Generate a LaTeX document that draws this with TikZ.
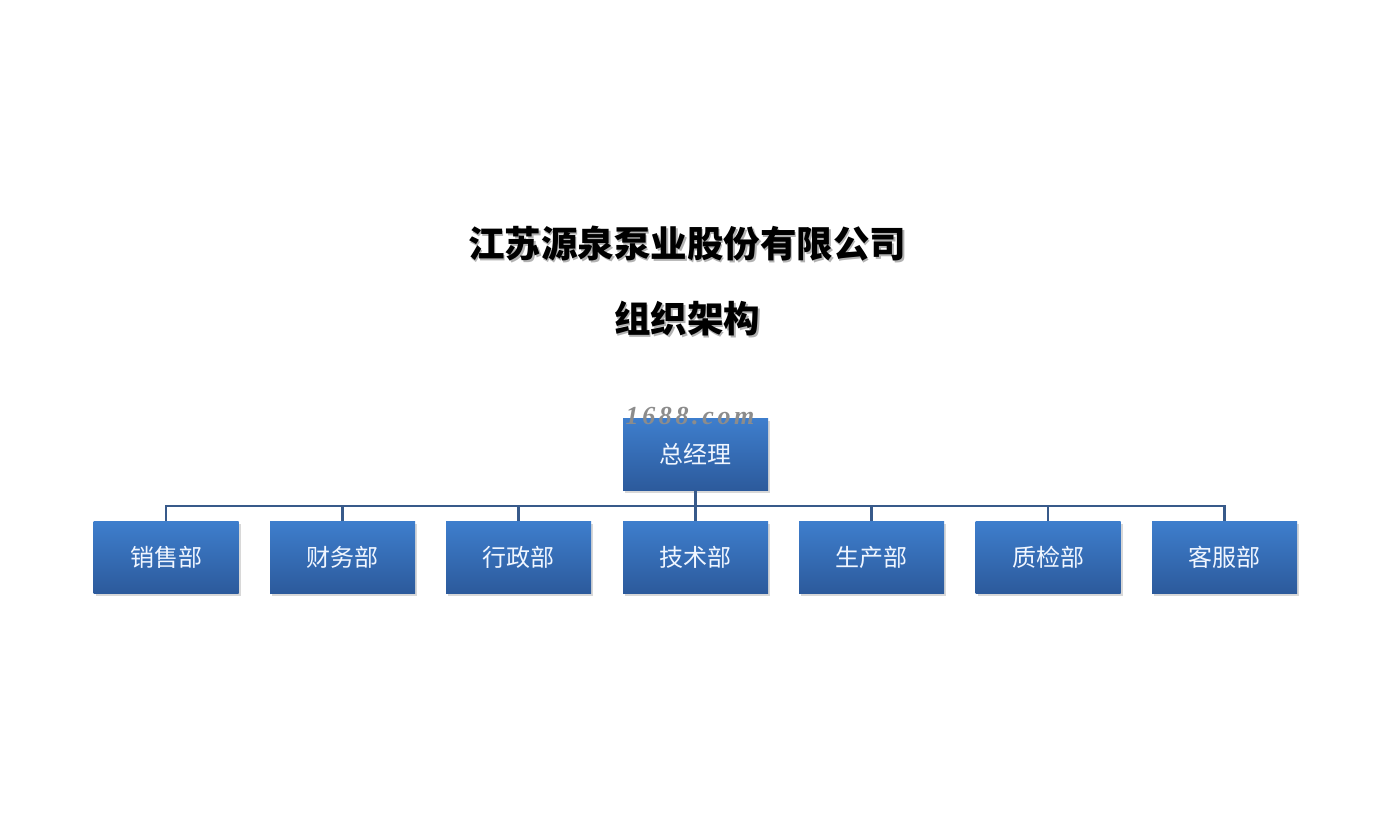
\documentclass[tikz,border=0pt]{standalone}
\usepackage{fontspec}
\newfontfamily\cjk{Noto Sans CJK SC}
\setmainfont{Liberation Serif}
\usetikzlibrary{shadows}
\definecolor{boxtop}{RGB}{62,126,205}
\definecolor{boxbot}{RGB}{44,90,156}
\definecolor{linec}{RGB}{56,90,138}
\definecolor{boxtext}{RGB}{240,246,255}
\tikzset{
  box/.style={minimum width=145pt, minimum height=72pt, inner sep=0pt,
    top color=boxtop, bottom color=boxbot, draw=none,
    drop shadow={opacity=0.3, shadow xshift=2pt, shadow yshift=-3pt},
    text=boxtext, font=\cjk\fontsize{24}{28}\selectfont},
  conn/.style={draw=linec, line width=2.2pt},
  title/.style={font=\cjk\bfseries\fontsize{36.5}{40}\selectfont, text=black},
  titleshadow/.style={font=\cjk\bfseries\fontsize{36.5}{40}\selectfont, text=black!30},
  wm/.style={font=\rmfamily\bfseries\itshape\fontsize{26}{28}\selectfont\addfontfeature{LetterSpace=14}, text=black!45}
}
\begin{document}
\begin{tikzpicture}[x=1pt,y=-1pt]
\useasboundingbox (0,0) rectangle (1373,827);
\fill[white] (0,0) rectangle (1373,827);
% titles
\node[titleshadow] (t1s) at (688.5,245.5) {江苏源泉泵业股份有限公司};
\node[title] (t1) at (687,244) {江苏源泉泵业股份有限公司};
\node[titleshadow] (t2s) at (688.5,320.5) {组织架构};
\node[title] (t2) at (687,319) {组织架构};
% boxes
\node[box] (boss) at (695.5,454) {总经理};
\node[box] (c1) at (166,557) {销售部};
\node[box] (c2) at (342.5,557) {财务部};
\node[box] (c3) at (518.5,557) {行政部};
\node[box] (c4) at (695.5,557) {技术部};
\node[box] (c5) at (871.5,557) {生产部};
\node[box] (c6) at (1048,557) {质检部};
\node[box] (c7) at (1224.5,557) {客服部};
% watermark
\node[wm] (wm) at (690,416) {1688.com};
% connectors
\coordinate (bus) at (695.5,506);
\draw[conn] (boss.south) -- (bus);
\foreach \c in {c1,c2,c3,c4,c5,c6,c7}{
  \draw[conn] (bus) -| (\c.north);
}
\end{tikzpicture}
\end{document}
